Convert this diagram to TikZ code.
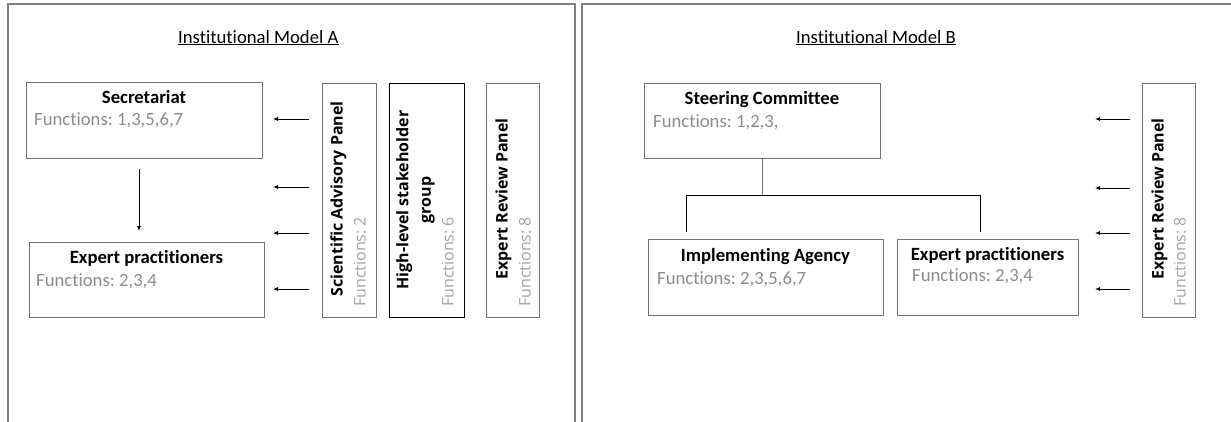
\documentclass[tikz,border=0pt]{standalone}
\usepackage{fontspec}
\setmainfont{Carlito}[Ligatures=NoCommon]
\newfontfamily\panelfont{Open Sans}
\usetikzlibrary{arrows.meta}
\definecolor{boxline}{gray}{0.45}
\definecolor{fungray}{gray}{0.55}
\definecolor{framegray}{gray}{0.5}
\frenchspacing

\begin{document}
\begin{tikzpicture}[x=1pt,y=-1pt,
    frame/.style={draw=framegray,line width=1.3pt},
    box/.style={draw=boxline,line width=0.9pt,inner sep=0pt},
    headtext/.style={font=\fontsize{18.7}{22}\selectfont\bfseries,inner sep=0pt,anchor=base},
    funtext/.style={font=\fontsize{18.7}{22}\selectfont,text=fungray,inner sep=0pt,anchor=base west},
    sidehead/.style={font=\panelfont\fontsize{16}{22.5}\selectfont\bfseries,inner sep=0pt,rotate=90,align=center},
    sidefun/.style={font=\panelfont\fontsize{16}{22.5}\selectfont,text=fungray!80,inner sep=0pt,rotate=90,anchor=base west},
    arr/.style={-{Latex[length=5pt,width=4pt]},line width=0.8pt}]
      \clip (0,0) rectangle (1231,421);
      % panel frames
      \draw[frame] (8,4) rectangle (575,440);
      \draw[frame] (582,4) rectangle (1245,440);
      \node[font=\fontsize{18.7}{22}\selectfont,inner sep=0pt,anchor=base west] (titleA) at (178,43) {\underline{Institutional Model A}};
      \node[font=\fontsize{18.7}{22}\selectfont,inner sep=0pt,anchor=base west] (titleB) at (796,43) {\underline{Institutional Model B}};

      % model A
      \node[box,minimum width=236,minimum height=76] (sec) at (144,120) {};
      \node[headtext] (secT) at (144,103) {Secretariat};
      \node[funtext] (secF) at (34,125) {Functions: 1,3,5,6,7};
      \node[box,minimum width=235,minimum height=75] (expA) at (146.5,279.5) {};
      \node[headtext] (expAT) at (146.5,263) {Expert practitioners};
      \node[funtext] (expAF) at (36,286) {Functions: 2,3,4};
      \node[box,minimum width=54,minimum height=234] (sap) at (349,200) {};
      \node[sidehead,anchor=base] (sapT) at (342.7,199) {Scientific Advisory Panel};
      \node[sidefun] (sapF) at (365.7,307) {Functions: 2};
      \node[box,draw=black,minimum width=75,minimum height=234] (hls) at (426.5,200) {};
      \node[sidehead,anchor=center] (hlsT) at (415.5,200) {High-level stakeholder\\group};
      \node[sidefun] (hlsF) at (453.7,307) {Functions: 6};
      \node[box,minimum width=53,minimum height=234] (erpA) at (512.5,200) {};
      \node[sidehead,anchor=base] (erpAT) at (507.7,199) {Expert Review Panel};
      \node[sidefun] (erpAF) at (530.7,307) {Functions: 8};
      \coordinate (down1) at (139,169);
      \coordinate (down2) at (139,231);
      \draw[arr] (down1) -- (down2);
      \foreach \y [count=\i] in {119,187,233,289} {
        \coordinate (pa\i) at (309,\y);
        \coordinate (qa\i) at (273,\y);
        \draw[arr] (pa\i) -- (qa\i);
      }

      % model B
      \node[box,minimum width=236,minimum height=75] (sc) at (762,120.5) {};
      \node[headtext] (scT) at (762,104) {Steering Committee};
      \node[funtext] (scF) at (653,127) {Functions: 1,2,3,};
      \node[box,minimum width=235,minimum height=76] (ia) at (765.5,277) {};
      \node[headtext] (iaT) at (765.5,261) {Implementing Agency};
      \node[funtext] (iaF) at (657,284) {Functions: 2,3,5,6,7};
      \node[box,minimum width=181,minimum height=76] (expB) at (987.5,277) {};
      \node[headtext] (expBT) at (987.5,260) {Expert practitioners};
      \node[funtext] (expBF) at (912,281) {Functions: 2,3,4};
      \node[box,minimum width=53,minimum height=234] (erpB) at (1168.5,200) {};
      \node[sidehead,anchor=base] (erpBT) at (1163.7,199) {Expert Review Panel};
      \node[sidefun] (erpBF) at (1185.7,307) {Functions: 8};
      \coordinate (tl) at (686,195);
      \coordinate (tr) at (980,195);
      \coordinate (bl) at (686,232);
      \coordinate (br) at (980,232);
      \draw[boxline,line width=0.9pt] (sc.south) -- (sc.south |- tl);
      \draw[line width=0.8pt] (bl) -- (tl) -- (tr) -- (br);
      \foreach \y [count=\i] in {119,188,233,289} {
        \coordinate (pb\i) at (1130,\y);
        \coordinate (qb\i) at (1095,\y);
        \draw[arr] (pb\i) -- (qb\i);
      }
    \end{tikzpicture}
\end{document}
